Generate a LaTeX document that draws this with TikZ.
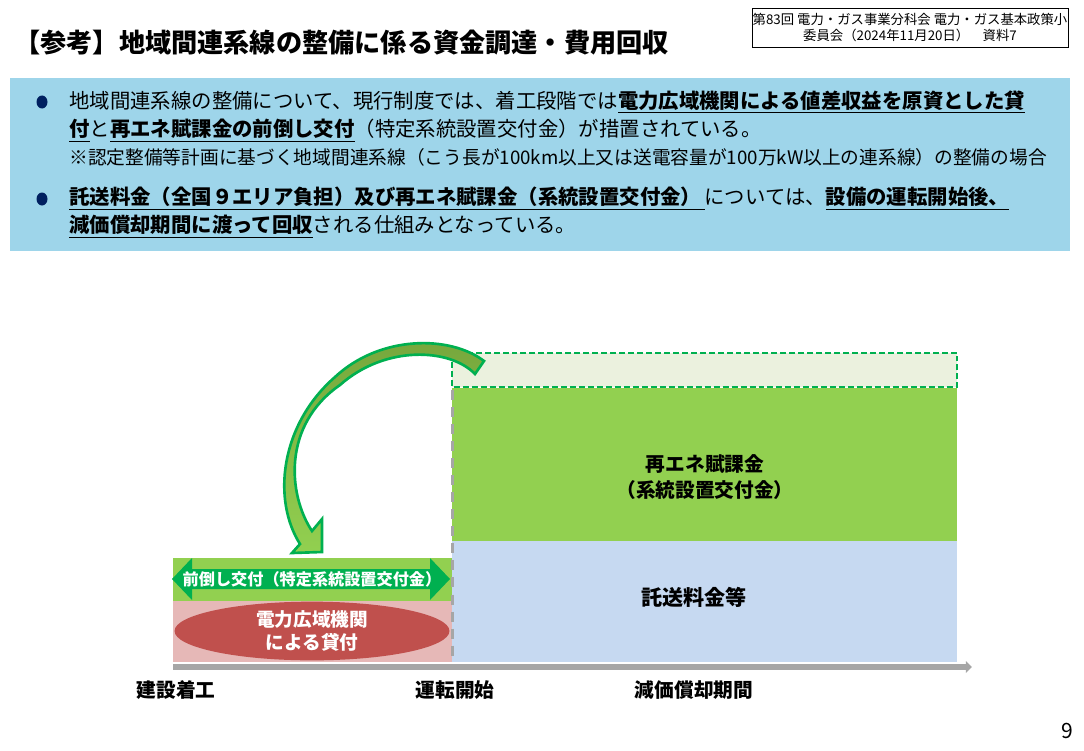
\documentclass[tikz,border=0pt]{standalone}
\usepackage{fontspec}
\setmainfont{Noto Sans CJK JP}
\usetikzlibrary{arrows.meta,calc,shapes.geometric}
\usepackage{tkz-euclide}
\definecolor{BandClr}{RGB}{158,213,234}
\definecolor{DotClr}{RGB}{0,32,96}
\definecolor{GreenClr}{RGB}{146,208,80}
\definecolor{DarkGreenClr}{RGB}{0,176,80}
\definecolor{OliveClr}{RGB}{118,166,60}
\definecolor{PaleClr}{RGB}{235,241,222}
\definecolor{BlueClr}{RGB}{198,217,241}
\definecolor{PinkClr}{RGB}{230,184,183}
\definecolor{LoanClr}{RGB}{192,80,77}
\definecolor{AxisClr}{RGB}{166,166,166}
\tikzset{
  body/.style={anchor=west,inner sep=0pt,font=\fontsize{11.6}{14}\selectfont},
  label/.style={inner sep=0pt,align=center,font=\fontsize{11.2}{15.3}\selectfont\bfseries},
  bullet/.style={fill=DotClr}
}

\begin{document}
\begin{tikzpicture}[x=0.02cm,y=-0.02cm]
\useasboundingbox (0,0) rectangle (1084,750);

\tkzDefPoints{10/78/Q1,1070/251/Q2,452/353/R1,957/387/R2,452/388/R3,957/541/R4,452/541/R5,957/662/R6,173/558/L1,452/601/L2,173/601/L3,452/662/L4,173/667/O,972/667/X}

\node[anchor=west,inner sep=0pt,font=\fontsize{14.9}{17}\selectfont\bfseries] (title) at (14,43)
  {【参考】地域間連系線の整備に係る資金調達・費用回収};
\node[draw,inner sep=0pt,minimum width=6.32cm,minimum height=0.78cm,align=center,
  font=\fontsize{7.6}{9.6}\selectfont] (meeting) at (910,27.5)
  {第83回 電力・ガス事業分科会 電力・ガス基本政策小\\委員会（2024年11月20日）　資料7};

\fill[BandClr] (Q1) rectangle (Q2);
\fill[bullet] (42,102) ellipse [x radius=5.5,y radius=6.5];
\fill[bullet] (42,199) ellipse [x radius=5.5,y radius=6.5];
\node[body] (line1) at (69,102)
  {地域間連系線の整備について、現行制度では、着工段階では\textbf{\underline{電力広域機関による値差収益を原資とした貸}}};
\node[body] (line2) at (69,131)
  {\textbf{\underline{付}}と\textbf{\underline{再エネ賦課金の前倒し交付}}（特定系統設置交付金）が措置されている。};
\node[body,font=\fontsize{10.65}{12}\selectfont] (note) at (69,157)
  {※認定整備等計画に基づく地域間連系線（こう長が100km以上又は送電容量が100万kW以上の連系線）の整備の場合};
\node[body] (line3) at (69,199)
  {\textbf{\underline{託送料金（全国９エリア負担）及び再エネ賦課金（系統設置交付金）\,}}については、\textbf{\underline{設備の運転開始後、}}};
\node[body] (line4) at (69,227)
  {\textbf{\underline{減価償却期間に渡って回収}}される仕組みとなっている。};

\fill[PaleClr] (R1) rectangle (R2);
\fill[GreenClr] (R3) rectangle (R4);
\fill[BlueClr] (R5) rectangle (R6);
\draw[DarkGreenClr,line width=1.1pt,dash pattern=on 3.4pt off 1.7pt] (R1) rectangle (R2);
\fill[GreenClr] (L1) rectangle (L2);
\fill[PinkClr] (L3) rectangle (L4);
\draw[AxisClr,line width=1.7pt,dash pattern=on 5.7pt off 4pt] (452,390) -- (L4);

\fill[DarkGreenClr] (172,579) -- (192,558) -- (192,569) -- (430,569) -- (430,558) -- (450,579)
  -- (430,600) -- (430,589) -- (192,589) -- (192,600) -- cycle;
\node[inner sep=0pt,text=white,font=\fontsize{9.2}{11}\selectfont\bfseries] (advance) at (312,579)
  {前倒し交付（特定系統設置交付金）};
\node[ellipse,fill=LoanClr,minimum width=5.5cm,minimum height=1.14cm,inner sep=0pt,
  text=white,align=center,font=\fontsize{10.6}{13.5}\selectfont\bfseries] (loan) at (312,631)
  {電力広域機関\\による貸付};

\node[label] (surcharge) at (705,477) {再エネ賦課金\\（系統設置交付金）};
\node[label,font=\fontsize{12}{14}\selectfont\bfseries] (wheeling) at (694,597) {託送料金等};

\draw[AxisClr,line width=3.4pt,-{Triangle[length=3.5pt,width=6.5pt]}] (O) -- (X);
\node[label] (start) at (176,690) {建設着工};
\node[label] (operation) at (455,690) {運転開始};
\node[label] (period) at (694,690) {減価償却期間};

\shade[top color=OliveClr,bottom color=GreenClr,draw=DarkGreenClr,line width=1.5pt]
  (484,361) .. controls (450,335) and (380,335) .. (335,377)
  .. controls (280,425) and (272,500) .. (300,544)
  -- (292,553) -- (322,552) -- (322,519) -- (312,531)
  .. controls (288,495) and (282,425) .. (340,385)
  .. controls (385,345) and (450,348) .. (475,374) -- cycle;

\node[inner sep=0pt,font=\fontsize{12}{14}\selectfont] (page) at (1067,731) {9};
\end{tikzpicture}
\end{document}
